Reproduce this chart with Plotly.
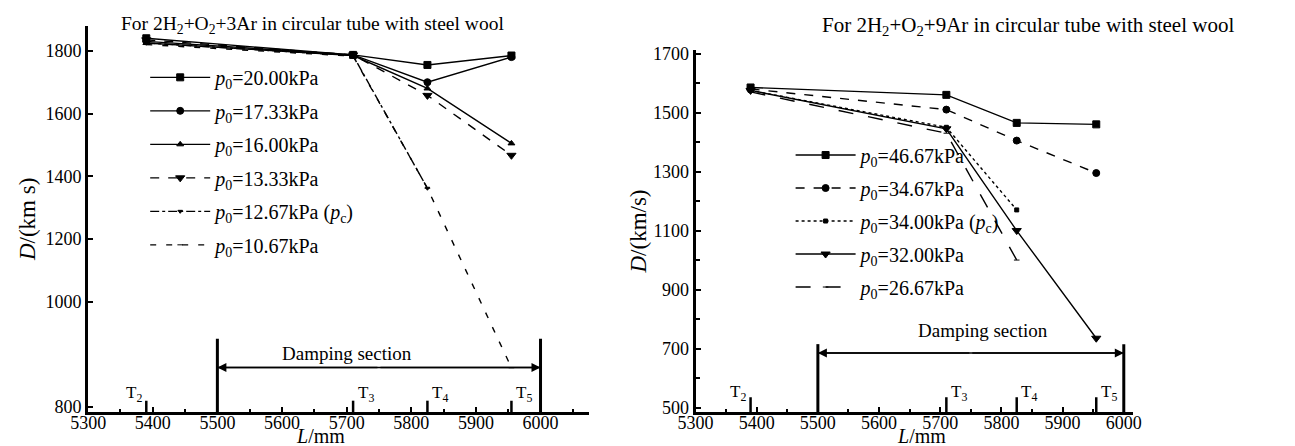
import plotly.graph_objects as go

# ---------------- data ----------------
sensor_x = [5390, 5710, 5825, 5955]          # T2, T3, T4, T5 positions (mm)
sensor_labels = ["T<sub>2</sub>", "T<sub>3</sub>", "T<sub>4</sub>", "T<sub>5</sub>"]
damping_start = 5500
damping_end = 6000

# Left panel: 2H2+O2+3Ar
left_names = [
    "<i>p</i><sub>0</sub>=20.00kPa",
    "<i>p</i><sub>0</sub>=17.33kPa",
    "<i>p</i><sub>0</sub>=16.00kPa",
    "<i>p</i><sub>0</sub>=13.33kPa",
    "<i>p</i><sub>0</sub>=12.67kPa (<i>p</i><sub>c</sub>)",
    "<i>p</i><sub>0</sub>=10.67kPa",
]
left_p20_00 = [1840, 1787, 1755, 1785]
left_p17_33 = [1830, 1787, 1700, 1780]
left_p16_00 = [1825, 1785, 1680, 1505]
left_p13_33 = [1835, 1787, 1658, 1467]
left_p12_67 = [1825, 1785, 1362]
left_p10_67 = [1820, 1783, 1362, 790]

# Right panel: 2H2+O2+9Ar
right_names = [
    "<i>p</i><sub>0</sub>=46.67kPa",
    "<i>p</i><sub>0</sub>=34.67kPa",
    "<i>p</i><sub>0</sub>=34.00kPa (<i>p</i><sub>c</sub>)",
    "<i>p</i><sub>0</sub>=32.00kPa",
    "<i>p</i><sub>0</sub>=26.67kPa",
]
right_p46_67 = [1585, 1560, 1465, 1460]
right_p34_67 = [1580, 1510, 1405, 1295]
right_p34_00 = [1575, 1450, 1170]
right_p32_00 = [1575, 1445, 1100, 735]
right_p26_67 = [1570, 1430, 1000]

# y tick labels (left axis is drawn broken at the bottom, as in the original)
left_tick_vals = [665, 1000, 1200, 1400, 1600, 1800]
left_tick_text = ["800", "1000", "1200", "1400", "1600", "1800"]
right_ticks = [500, 700, 900, 1100, 1300, 1500, 1700]
x_ticks = [5300, 5400, 5500, 5600, 5700, 5800, 5900, 6000]

FONT = "Liberation Serif"

left_styles = [
    dict(symbol="square", size=7, dash="solid"),
    dict(symbol="circle", size=7, dash="solid"),
    dict(symbol="triangle-up", size=6, dash="solid"),
    dict(symbol="triangle-down", size=8, dash="dash"),
    dict(symbol="triangle-down", size=4, dash="dashdot"),
    dict(symbol="line-ew-open", size=4, dash="6px,10px"),
]
right_styles = [
    dict(symbol="square", size=7, dash="solid"),
    dict(symbol="circle", size=7, dash="dash"),
    dict(symbol="square", size=4, dash="dot"),
    dict(symbol="triangle-down", size=8, dash="solid"),
    dict(symbol="line-ew-open", size=4, dash="longdash"),
]

fig = go.Figure()

left_series = [left_p20_00, left_p17_33, left_p16_00, left_p13_33, left_p12_67, left_p10_67]
for i, (name, vals, st) in enumerate(zip(left_names, left_series, left_styles)):
    fig.add_trace(go.Scatter(
        x=sensor_x[:len(vals)], y=vals, name=name, mode="lines+markers",
        xaxis="x", yaxis="y", legend="legend", legendgroup=f"L{i}",
        line=dict(color="black", width=1.4, dash=st["dash"]),
        marker=dict(symbol=st["symbol"], size=st["size"], color="black",
                    line=dict(color="black", width=1)),
    ))

right_series = [right_p46_67, right_p34_67, right_p34_00, right_p32_00, right_p26_67]
for i, (name, vals, st) in enumerate(zip(right_names, right_series, right_styles)):
    fig.add_trace(go.Scatter(
        x=sensor_x[:len(vals)], y=vals, name=name, mode="lines+markers",
        xaxis="x2", yaxis="y2", legend="legend2", legendgroup=f"R{i}",
        line=dict(color="black", width=1.4, dash=st["dash"]),
        marker=dict(symbol=st["symbol"], size=st["size"], color="black",
                    line=dict(color="black", width=1)),
    ))

axis_common = dict(
    showline=True, linecolor="black", linewidth=3, showgrid=False, zeroline=False,
    ticks="inside", ticklen=5, tickwidth=2, tickcolor="black",
    tickfont=dict(family=FONT, size=18, color="black"),
)

fig.update_layout(
    width=1295, height=446,
    margin=dict(l=0, r=0, t=0, b=0),
    paper_bgcolor="white", plot_bgcolor="white",
    font=dict(family=FONT, color="black"),
    xaxis=dict(domain=[0.049, 0.444], range=[5300, 6075], anchor="y",
               tickvals=x_ticks, ticklabelstandoff=-8, **axis_common,
               minor=dict(dtick=50, ticks="inside", ticklen=3, tickcolor="black")),
    yaxis=dict(domain=[0.083, 0.973], range=[649, 1880], anchor="x",
               tickvals=left_tick_vals, ticktext=left_tick_text, **axis_common,
               title=dict(text="<i>D</i>/(km s)", font=dict(family=FONT, size=23), standoff=4)),
    xaxis2=dict(domain=[0.528, 0.873], range=[5300, 6015], anchor="y2",
                tickvals=x_ticks, ticklabelstandoff=-8, **axis_common,
                minor=dict(dtick=50, ticks="inside", ticklen=3, tickcolor="black")),
    yaxis2=dict(domain=[0.083, 0.917], range=[485, 1712], anchor="x2",
                tickvals=right_ticks, **axis_common,
                minor=dict(dtick=100, ticks="inside", ticklen=4, tickcolor="black"),
                title=dict(text="<i>D</i>/(km/s)", font=dict(family=FONT, size=23), standoff=0)),
    legend=dict(x=0.094, y=0.899, xanchor="left", yanchor="top", bgcolor="rgba(0,0,0,0)",
                traceorder="grouped", tracegroupgap=4.5,
                font=dict(family=FONT, size=20, color="black"), itemwidth=60),
    legend2=dict(x=0.603, y=0.72, xanchor="left", yanchor="top", bgcolor="rgba(0,0,0,0)",
                 traceorder="grouped", tracegroupgap=4,
                 font=dict(family=FONT, size=20, color="black"), itemwidth=60),
    showlegend=True,
)

# titles
fig.add_annotation(text="For 2H<sub>2</sub>+O<sub>2</sub>+3Ar in circular tube with steel wool",
                   xref="paper", yref="paper", x=0.073, y=1.0, yshift=3, xanchor="left", yanchor="top",
                   showarrow=False, font=dict(family=FONT, size=19.5, color="black"))
fig.add_annotation(text="For 2H<sub>2</sub>+O<sub>2</sub>+9Ar in circular tube with steel wool",
                   xref="paper", yref="paper", x=0.79, y=1.0, yshift=3, xanchor="center", yanchor="top",
                   showarrow=False, font=dict(family=FONT, size=21, color="black"))
# x-axis titles
for xp in (0.232, 0.706):
    fig.add_annotation(text="<i>L</i>/mm", xref="paper", yref="paper", x=xp, y=0.0, yshift=-1,
                       xanchor="center", yanchor="bottom", showarrow=False,
                       font=dict(family=FONT, size=20, color="black"))

# damping section decorations for each panel
panels = [
    dict(xr="x", yr="y", base=649, bar_top=882, tick_top=685, arrow_y=791, text_y=835,
         lab_y=705, text_x=5700),
    dict(xr="x2", yr="y2", base=485, bar_top=715, tick_top=535, arrow_y=685, text_y=760,
         lab_y=548, text_x=5770),
]
for p in panels:
    for bx in (damping_start, damping_end):
        fig.add_shape(type="line", xref=p["xr"], yref=p["yr"], x0=bx, x1=bx,
                      y0=p["base"], y1=p["bar_top"], line=dict(color="black", width=3))
    for sx in sensor_x:
        fig.add_shape(type="line", xref=p["xr"], yref=p["yr"], x0=sx, x1=sx,
                      y0=p["base"], y1=p["tick_top"], line=dict(color="black", width=2.5))
    fig.add_shape(type="line", xref=p["xr"], yref=p["yr"], x0=damping_start, x1=damping_end,
                  y0=p["arrow_y"], y1=p["arrow_y"], line=dict(color="black", width=1.5))
    mid = (damping_start + damping_end) / 2
    for end in (damping_start, damping_end):
        fig.add_annotation(xref=p["xr"], yref=p["yr"], axref=p["xr"], ayref=p["yr"],
                           x=end, y=p["arrow_y"], ax=mid, ay=p["arrow_y"], text="",
                           showarrow=True, arrowhead=2, arrowsize=1.2, arrowwidth=1.5,
                           arrowcolor="black")
    fig.add_annotation(xref=p["xr"], yref=p["yr"], x=p["text_x"], y=p["text_y"],
                       text="Damping section", showarrow=False,
                       font=dict(family=FONT, size=19, color="black"))
    for i, (sx, lab) in enumerate(zip(sensor_x, sensor_labels)):
        fig.add_annotation(xref=p["xr"], yref=p["yr"], x=sx + (-4 if i == 0 else 4), y=p["lab_y"],
                           text=lab, showarrow=False, xanchor="right" if i == 0 else "left",
                           font=dict(family=FONT, size=17, color="black"))

fig.write_html("out.html")
